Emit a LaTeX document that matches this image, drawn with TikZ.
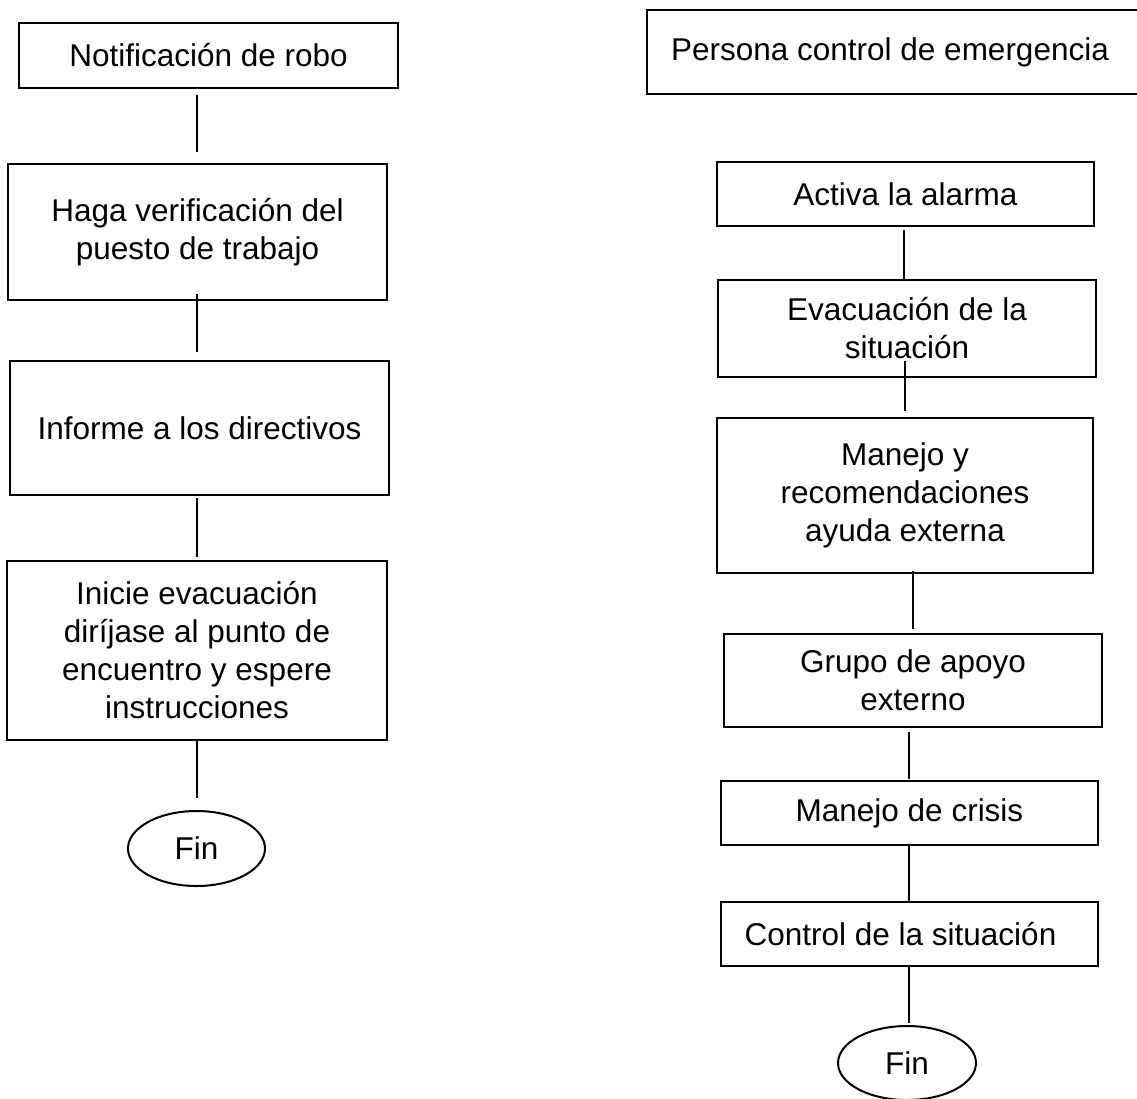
\documentclass[tikz,border=0pt]{standalone}
\usepackage{fontspec}
\setmainfont{Liberation Sans}
\usetikzlibrary{shapes.geometric}
\tikzset{
  boxnode/.style={draw=black, line width=2.2pt, inner sep=0pt, align=center,
    font=\fontsize{31.5pt}{38pt}\selectfont},
  endnode/.style={ellipse, draw=black, line width=2pt, inner sep=0pt,
    font=\fontsize{31.5pt}{38pt}\selectfont},
  link/.style={draw=black, line width=1.3pt}
}
\begin{document}
\begin{tikzpicture}[x=1pt,y=-1pt]
\useasboundingbox (0,0) rectangle (1137,1098);
\clip (0,0) rectangle (1137,1098);
\fill[white] (0,0) rectangle (1137,1098);

% left column
\node[boxnode, minimum width=379pt, minimum height=65pt] (n1) at (208.5,55.5) {Notificación de robo};
\node[boxnode, minimum width=379pt, minimum height=136pt] (n2) at (197.5,232) {Haga verificación del\\puesto de trabajo};
\node[boxnode, minimum width=379pt, minimum height=134pt] (n3) at (199.5,428) {Informe a los directivos};
\node[boxnode, minimum width=380pt, minimum height=179pt] (n4) at (197,650.5) {Inicie evacuación\\diríjase al punto de\\encuentro y espere\\instrucciones};
\node[endnode, minimum width=137pt, minimum height=75pt] (f1) at (196.5,848.5) {Fin};

\coordinate (lx) at (197,0);
\draw[link] ([yshift=-6pt]n1.south -| lx) -- ([yshift=11pt]n2.north -| lx);
\draw[link] ([yshift=7pt]n2.south -| lx) -- ([yshift=8pt]n3.north -| lx);
\draw[link] ([yshift=-2pt]n3.south -| lx) -- ([yshift=3pt]n4.north -| lx);
\draw[link] (n4.south -| lx) -- ([yshift=12pt]f1.north -| lx);

% right column
\node[boxnode, minimum width=513pt, minimum height=84pt] (p) at (903.5,52) {Persona control de emergencia\hspace*{27pt}};
\node[boxnode, minimum width=377pt, minimum height=64pt] (r1) at (905.5,194) {Activa la alarma};
\node[boxnode, minimum width=378pt, minimum height=97pt] (r2) at (907,328.5) {Evacuación de la\\situación};
\node[boxnode, minimum width=376pt, minimum height=155pt] (r3) at (905,495.5) {Manejo y\\recomendaciones\\ayuda externa};
\node[boxnode, minimum width=378pt, minimum height=93pt] (r4) at (913,680.5) {Grupo de apoyo\\externo};
\node[boxnode, minimum width=377pt, minimum height=64pt] (r5) at (909.5,813) {Manejo de crisis};
\node[boxnode, minimum width=377pt, minimum height=64pt] (r6) at (909.5,934) {Control de la situación\hspace*{18pt}};
\node[endnode, minimum width=138pt, minimum height=74pt] (f2) at (907,1063) {Fin};

\coordinate (rxa) at (904,0);
\coordinate (rxb) at (905,0);
\coordinate (rxc) at (913,0);
\coordinate (rxd) at (909,0);
\draw[link] ([yshift=-3pt]r1.south -| rxa) -- (r2.north -| rxa);
\draw[link] ([yshift=17pt]r2.south -| rxb) -- ([yshift=6pt]r3.north -| rxb);
\draw[link] ([yshift=3pt]r3.south -| rxc) -- ([yshift=4pt]r4.north -| rxc);
\draw[link] ([yshift=-4pt]r4.south -| rxd) -- ([yshift=1pt]r5.north -| rxd);
\draw[link] (r5.south -| rxd) -- (r6.north -| rxd);
\draw[link] (r6.south -| rxd) -- ([yshift=2pt]f2.north -| rxd);
\end{tikzpicture}
\end{document}
